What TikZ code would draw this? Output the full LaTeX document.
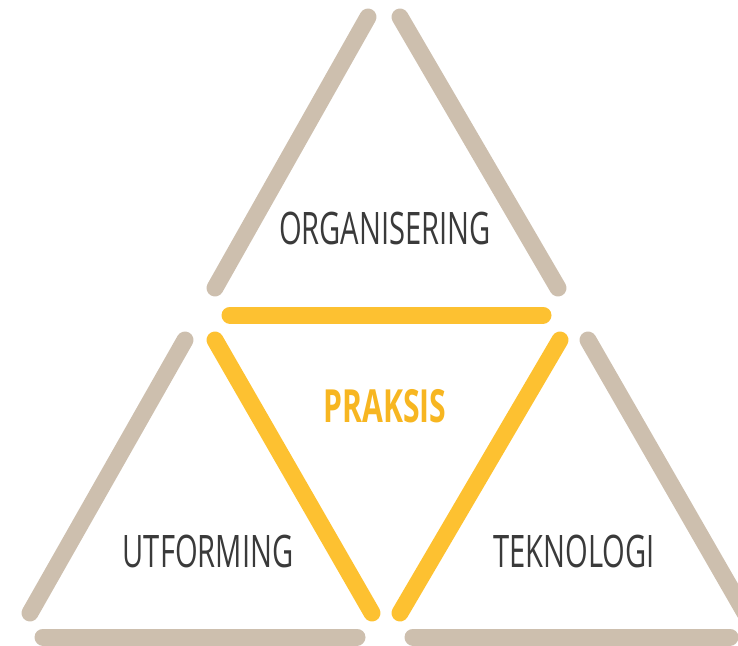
\documentclass[tikz,border=0pt]{standalone}
\usepackage{fontspec}
\newfontfamily\condfont{Open Sans}[FakeStretch=0.65]
\newfontfamily\condboldfont{Open Sans}[FakeStretch=0.66]
\usepackage{tikz}
\usetikzlibrary{positioning}
\definecolor{sand}{HTML}{CDBFAE}
\definecolor{gold}{HTML}{FDC131}
\definecolor{goldtext}{HTML}{F7B621}
\definecolor{ink}{HTML}{3A3A3A}
\tikzset{
  bar/.style={line width=17*0.02cm, line cap=round},
  sandbar/.style={bar, draw=sand},
  goldbar/.style={bar, draw=gold},
  label/.style={font=\condfont\fontsize{25.5}{30}\selectfont, text=ink, inner sep=0pt},
  centrelabel/.style={font=\condboldfont\bfseries\fontsize{26}{30}\selectfont, text=goldtext, inner sep=0pt},
}

\begin{document}
\begin{tikzpicture}[x=0.02cm, y=-0.02cm]

    \useasboundingbox (0, 0) rectangle (738, 646);

    % top triangle
    \draw[sandbar] (368, 17) -- (215, 288);
    \draw[sandbar] (400, 17) -- (558, 288);
    \draw[goldbar] (230, 315) -- (543, 315);

    % lower left triangle
    \draw[sandbar] (185, 340) -- (30, 613);
    \draw[goldbar] (215, 340) -- (372, 613);
    \draw[sandbar] (43, 637) -- (357, 637);

    % lower right triangle
    \draw[goldbar] (560, 340) -- (400, 613);
    \draw[sandbar] (588, 340) -- (745, 613);
    \draw[sandbar] (413, 637) -- (730, 637);

    \node[label] (organisering) at (385, 228) {ORGANISERING};
    \node[centrelabel] (praksis) at (385, 406) {PRAKSIS};
    \node[label] (utforming) at (208, 551) {UTFORMING};
    \node[label] (teknologi) at (574, 551) {TEKNOLOGI};

\end{tikzpicture}
\end{document}
